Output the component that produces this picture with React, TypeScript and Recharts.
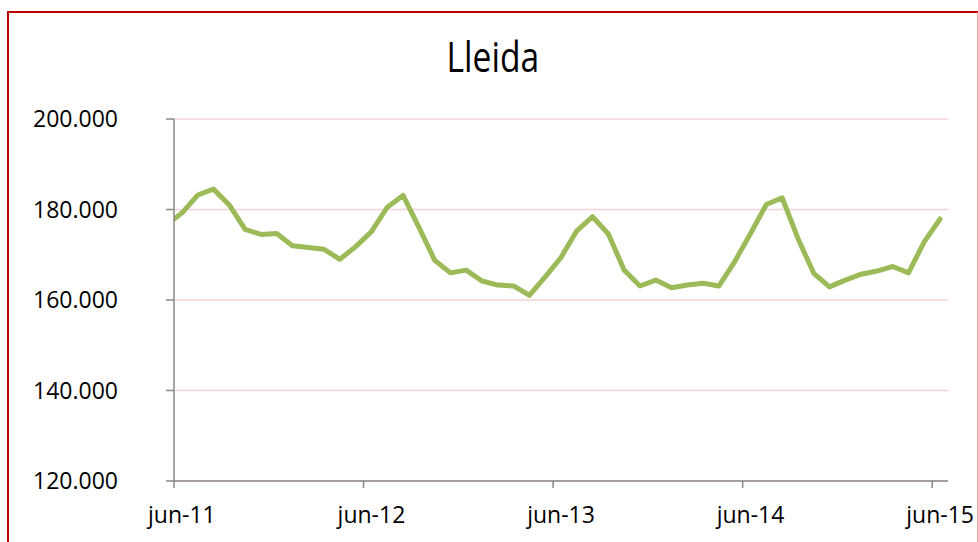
import React from "react";
import { LineChart, Line, XAxis, YAxis, CartesianGrid } from "recharts";

// monthly series, may-11 sits just left of the axis start and gets clipped
const months = [
  "may-11",
  "jun-11", "jul-11", "ago-11", "sep-11", "oct-11", "nov-11", "dic-11",
  "ene-12", "feb-12", "mar-12", "abr-12", "may-12",
  "jun-12", "jul-12", "ago-12", "sep-12", "oct-12", "nov-12", "dic-12",
  "ene-13", "feb-13", "mar-13", "abr-13", "may-13",
  "jun-13", "jul-13", "ago-13", "sep-13", "oct-13", "nov-13", "dic-13",
  "ene-14", "feb-14", "mar-14", "abr-14", "may-14",
  "jun-14", "jul-14", "ago-14", "sep-14", "oct-14", "nov-14", "dic-14",
  "ene-15", "feb-15", "mar-15", "abr-15", "may-15",
  "jun-15",
];

const values = [
  176600,
  179200, 183200, 184500, 181000, 175600, 174500, 174700,
  172000, 171600, 171200, 169000, 171800,
  175100, 180500, 183100, 176100, 168800, 166000, 166600,
  164200, 163300, 163100, 161000, 165100,
  169400, 175300, 178400, 174600, 166600, 163100, 164400,
  162700, 163300, 163700, 163100, 168500,
  174700, 181100, 182600, 173600, 165900, 162900, 164400,
  165700, 166400, 167400, 166000, 172900,
  177900,
];

const xTicks = [0, 12, 24, 36, 48];
const xTickLabels = ["jun-11", "jun-12", "jun-13", "jun-14", "jun-15"];
const yTicks = [120000, 140000, 160000, 180000, 200000];

// points are drawn mid-month; index 1 (jun-11) starts at month 0
const data = months.map((m, i) => ({ month: m, t: i - 1 + 0.5, value: values[i] }));

const W = 978;
const H = 542;
const MARGIN = { top: 119, right: 30, bottom: 21, left: 0 };
const Y_WIDTH = 174;
const X_MAX = 49;
const halfMonth = (W - Y_WIDTH - MARGIN.right) / X_MAX / 2;

const fmt = (n: number) =>
  `${Math.floor(n / 1000)}.${String(n % 1000).padStart(3, "0")}`;

const XTick = (props: any) => {
  const { x, y, payload } = props;
  const idx = xTicks.indexOf(payload.value);
  return (
    <text
      x={x + halfMonth}
      y={y + 33}
      textAnchor="middle"
      fontFamily="'Open Sans', sans-serif"
      fontSize={23}
      fill="#000"
    >
      {xTickLabels[idx]}
    </text>
  );
};

export default function App() {
  return (
    <div
      style={{
        position: "absolute",
        left: 0,
        top: 0,
        width: W,
        height: H,
        overflow: "hidden",
        background: "#fff",
      }}
    >
      <div
        style={{
          position: "absolute",
          left: 7,
          top: 11,
          width: 968,
          height: 560,
          borderTop: "2px solid #C00000",
          borderLeft: "2px solid #C00000",
          borderRight: "2px solid #E8A9A9",
        }}
      />
      <div
        style={{
          position: "absolute",
          left: 0,
          width: W,
          top: 28,
          textAlign: "center",
          fontFamily: "'Open Sans', sans-serif",
          fontSize: 42,
          lineHeight: "56px",
          color: "#000",
        }}
      >
        <span style={{ display: "inline-block", transform: "scaleX(0.8)", marginLeft: 8 }}>
          Lleida
        </span>
      </div>
      <div style={{ position: "absolute", left: 0, top: 0 }}>
        <LineChart width={W} height={H} data={data} margin={MARGIN}>
          <CartesianGrid vertical={false} stroke="#F2D4D6" strokeWidth={1.5} />
          <XAxis
            dataKey="t"
            type="number"
            domain={[0, X_MAX]}
            allowDataOverflow
            ticks={xTicks}
            tick={<XTick />}
            tickSize={7}
            height={40}
            stroke="#888"
            strokeWidth={1.5}
          />
          <YAxis
            type="number"
            domain={[120000, 200000]}
            ticks={yTicks}
            tickFormatter={fmt}
            width={Y_WIDTH}
            tickSize={8}
            tickMargin={48}
            stroke="#888"
            strokeWidth={1.5}
            tick={{ fill: "#000", fontSize: 23, fontFamily: "'Open Sans', sans-serif" }}
          />
          <Line
            type="linear"
            dataKey="value"
            stroke="#9BBB59"
            strokeWidth={5}
            strokeLinejoin="round"
            strokeLinecap="round"
            dot={false}
            isAnimationActive={false}
          />
        </LineChart>
      </div>
    </div>
  );
}
